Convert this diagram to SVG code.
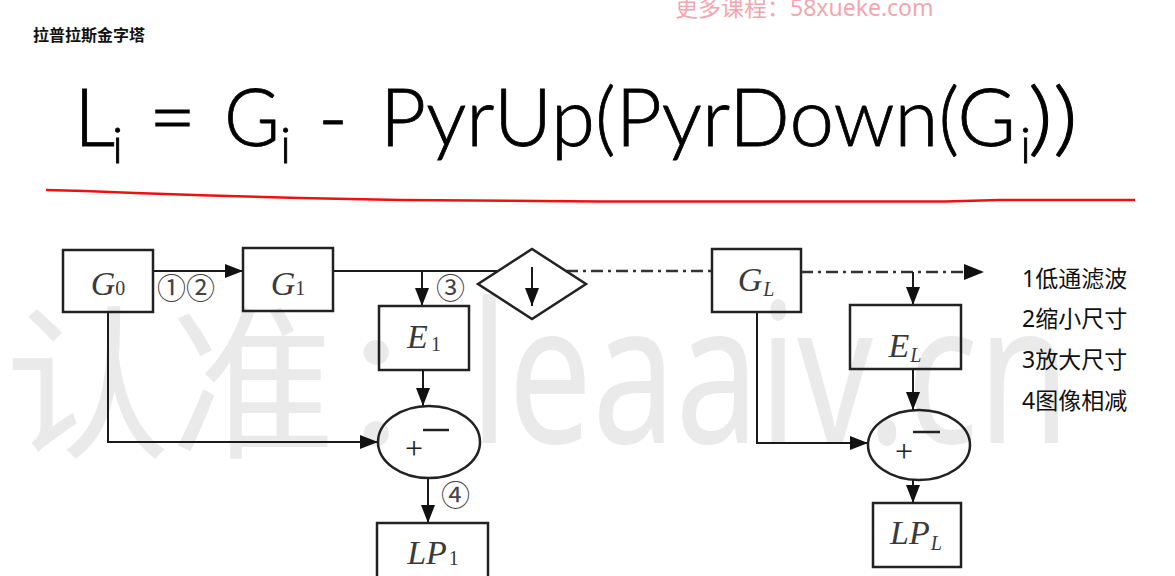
<svg xmlns="http://www.w3.org/2000/svg" width="1175" height="576" viewBox="0 0 1175 576">
<defs>
<marker id="ah" viewBox="0 0 18 14" refX="18" refY="7" markerWidth="18" markerHeight="14" markerUnits="userSpaceOnUse" orient="auto">
<path d="M0,0 L18,7 L0,14 Z" fill="#111"/>
</marker>
</defs>
<style>
.wm{font-family:"Noto Sans","Noto Sans CJK SC",sans-serif;fill:#eaeaea}
.pink{font-family:"Noto Sans","Noto Sans CJK SC",sans-serif;fill:#f3a6b0;font-size:23px}
.title{font-family:"Noto Sans CJK SC",sans-serif;font-weight:bold;font-size:16px;fill:#111}
.f{font-family:Lato,"Noto Sans",sans-serif;font-weight:300;fill:#000;stroke:#000;stroke-width:0.8}
.box{fill:none;stroke:#222;stroke-width:2.5}
.ln{fill:none;stroke:#1a1a1a;stroke-width:2}
.dd{fill:none;stroke:#333;stroke-width:2.5;stroke-dasharray:12 5 3 5}
.lbl{font-family:"Liberation Serif",serif;font-style:italic;font-size:34px;fill:#3a3a3a;text-anchor:middle}
.sub{font-size:20px}
.up{font-style:normal}
.cn{font-family:"Noto Sans CJK SC",sans-serif;font-size:29px;fill:#444}
.pm{font-family:"Liberation Serif",serif;font-size:32px;fill:#222}
.leg{font-family:"Noto Sans","Noto Sans CJK SC",sans-serif;font-size:23px;fill:#111}
</style>
<rect width="1175" height="576" fill="#fff"/>
<g id="watermark">
<text class="wm" x="5" y="445" font-size="165">认准：</text>
<text class="wm" x="470" y="443" font-size="196" textLength="600" lengthAdjust="spacingAndGlyphs">leaaiv.cn</text>
</g>
<text class="pink" x="675" y="16">更多课程：58xueke.com</text>
<text class="title" x="33" y="41">拉普拉斯金字塔</text>
<g id="formula">
<text class="f" x="74" y="146" font-size="81">L</text>
<text class="f" x="112" y="163" font-size="50">i</text>
<text class="f" x="149" y="146" font-size="81">=</text>
<text class="f" x="224" y="146" font-size="81" textLength="56" lengthAdjust="spacingAndGlyphs">G</text>
<text class="f" x="280" y="163" font-size="50">i</text>
<text class="f" x="318" y="146" font-size="81">-</text>
<text class="f" x="380" y="146" font-size="81" textLength="636" lengthAdjust="spacingAndGlyphs">PyrUp(PyrDown(G</text>
<text class="f" x="1020" y="163" font-size="50">i</text>
<text class="f" x="1028" y="146" font-size="81" textLength="50" lengthAdjust="spacingAndGlyphs">))</text>
</g>
<path d="M46,190 L85,191 L135,193 L210,195.5 L300,198 L400,200 L600,201.5 L945,201.5 L1000,200 L1135,200" fill="none" stroke="#f01010" stroke-width="2.5"/>
<g id="connectors">
<line class="ln" x1="153" y1="271" x2="243" y2="271" marker-end="url(#ah)"/>
<line class="ln" x1="333" y1="271" x2="498" y2="271"/>
<line class="ln" x1="422" y1="271" x2="422" y2="306" marker-end="url(#ah)"/>
<line class="ln" x1="532" y1="267" x2="532" y2="306" stroke-width="2.5" marker-end="url(#ah)"/>
<line class="dd" x1="566" y1="271" x2="712" y2="271"/>
<line class="dd" x1="801" y1="272" x2="966" y2="272"/>
<path d="M964,264 L984,272 L964,280 Z" fill="#111"/>
<line class="ln" x1="913" y1="272" x2="913" y2="305" marker-end="url(#ah)"/>
<line class="ln" x1="423" y1="370" x2="423" y2="406" marker-end="url(#ah)"/>
<polyline class="ln" points="108,312 108,442 378,442" marker-end="url(#ah)"/>
<line class="ln" x1="428" y1="478" x2="428" y2="523" marker-end="url(#ah)"/>
<line class="ln" x1="913" y1="369" x2="913" y2="410" marker-end="url(#ah)"/>
<polyline class="ln" points="757,312 757,443 868,443" marker-end="url(#ah)"/>
<line class="ln" x1="913" y1="480" x2="913" y2="503" marker-end="url(#ah)"/>
</g>
<g id="G0"><rect class="box" x="63" y="250" width="90" height="62"/><text class="lbl" x="108" y="295">G<tspan class="sub up">0</tspan></text></g>
<g id="G1"><rect class="box" x="243" y="248" width="90" height="63"/><text class="lbl" x="288" y="295">G<tspan class="sub up">1</tspan></text></g>
<g id="down"><polygon class="box" points="478,284 532,249 586,284 532,319"/></g>
<g id="E1"><rect class="box" x="379" y="306" width="90" height="64"/><text class="lbl" x="424" y="348">E<tspan class="sub up" dx="3" dy="3">1</tspan></text></g>
<g id="sub1"><ellipse class="box" cx="429" cy="442" rx="51" ry="36"/><text class="pm" x="405" y="459">+</text><line x1="423" y1="430" x2="449" y2="430" stroke="#222" stroke-width="2.5"/></g>
<g id="LP1"><rect class="box" x="377" y="523" width="111" height="70"/><text class="lbl" x="433" y="564">LP<tspan class="sub up" dx="2" dy="1">1</tspan></text></g>
<g id="GL"><rect class="box" x="712" y="249" width="89" height="63"/><text class="lbl" x="756" y="291">G<tspan class="sub" dx="1" dy="5">L</tspan></text></g>
<g id="EL"><rect class="box" x="850" y="305" width="111" height="64"/><text class="lbl" x="905" y="357">E<tspan class="sub" dx="1" dy="5">L</tspan></text></g>
<g id="subL"><ellipse class="box" cx="919" cy="445" rx="51" ry="35"/><text class="pm" x="895" y="462">+</text><line x1="913" y1="432" x2="940" y2="432" stroke="#222" stroke-width="2.5"/></g>
<g id="LPL"><rect class="box" x="873" y="503" width="88" height="64"/><text class="lbl" x="916" y="544">LP<tspan class="sub" dx="1" dy="6">L</tspan></text></g>
<g id="steps">
<text class="cn" x="157" y="299">①②</text>
<text class="cn" x="436" y="299">③</text>
<text class="cn" x="441" y="506">④</text>
</g>
<g id="legend">
<text class="leg" x="1022" y="287">1低通滤波</text>
<text class="leg" x="1022" y="327">2缩小尺寸</text>
<text class="leg" x="1022" y="368">3放大尺寸</text>
<text class="leg" x="1022" y="409">4图像相减</text>
</g>
</svg>
